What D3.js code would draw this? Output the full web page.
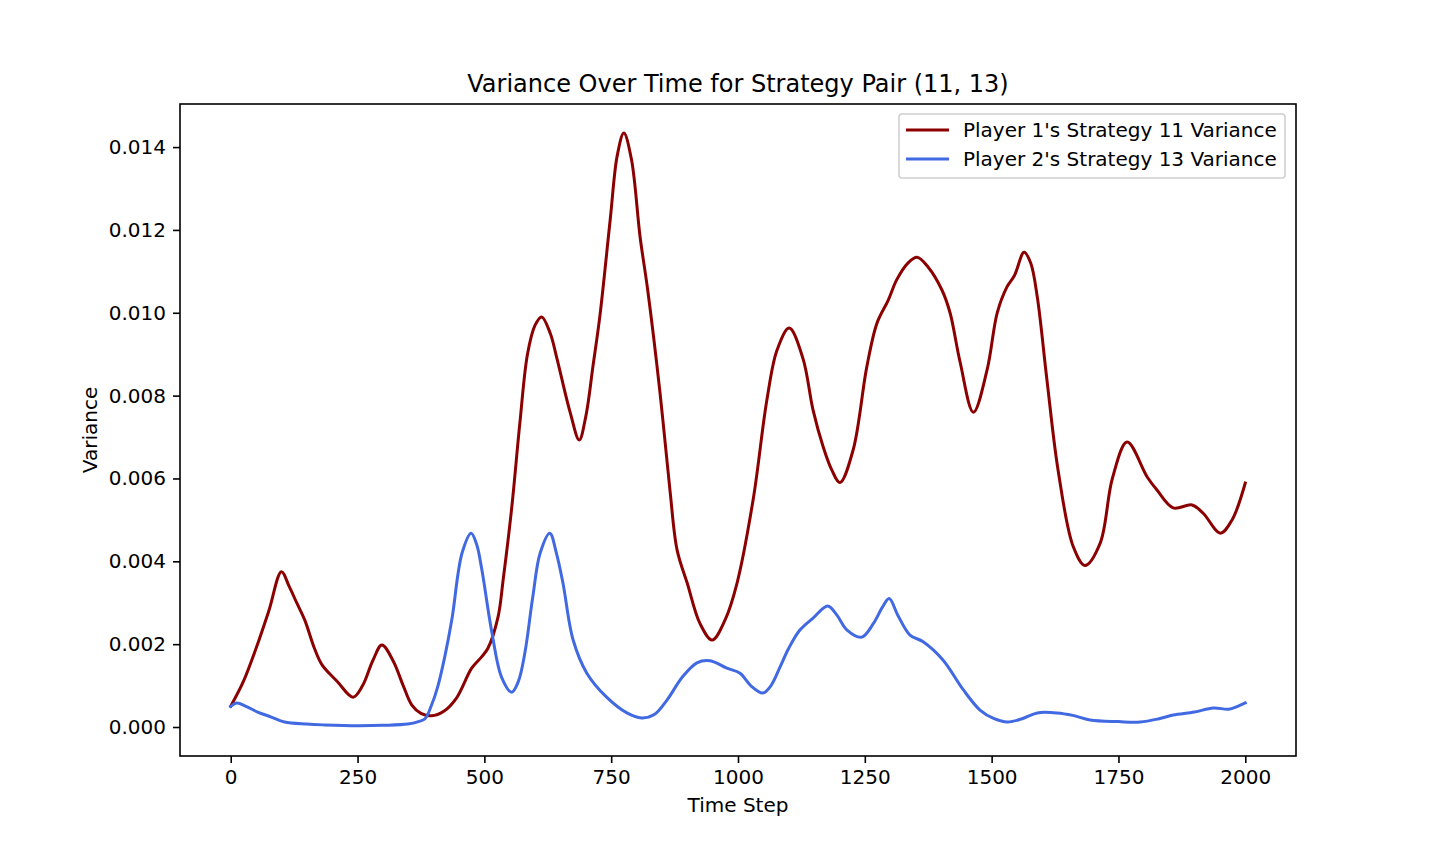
<!DOCTYPE html>
<html>
<head>
<meta charset="utf-8">
<script src="https://cdnjs.cloudflare.com/ajax/libs/d3/7.8.5/d3.min.js"></script>
<style>
    body {
        margin: 0px;
        padding: 0px;
        background: #fff;
    }
    svg text {
        font-family: 'DejaVu Sans', sans-serif;
    }
</style>
<title>Variance Over Time</title>
</head>
<body>
<div id="chart"></div>
<script>
    // values
    var p1Steps = [0, 25, 50, 75, 100, 115, 130, 146, 165, 180, 210, 241, 260, 280, 298, 320, 340, 357, 375, 396,
        420, 445, 475, 495, 507, 527, 537, 554, 570, 585, 600, 613, 630, 643, 669, 687, 700, 714, 728, 748,
        762, 775, 790, 807, 822, 846, 866, 880, 900, 925, 949, 975, 998, 1030, 1057, 1077, 1101, 1128, 1148, 1168,
        1185, 1201, 1227, 1254, 1274, 1296, 1313, 1335, 1353, 1375, 1402, 1418, 1438, 1464, 1491, 1511, 1530, 1545, 1564, 1577,
        1590, 1609, 1631, 1661, 1684, 1714, 1738, 1767, 1807, 1826, 1858, 1895, 1917, 1951, 1974, 2000];
    var p1Var = [0.0005, 0.0011, 0.0019, 0.0028, 0.00375, 0.0034, 0.0030, 0.00258, 0.0019, 0.0015, 0.0011, 0.00072, 0.0010, 0.0016, 0.00198, 0.0016, 0.0010, 0.00053, 0.00033, 0.00027,
        0.00038, 0.0007, 0.00142, 0.0017, 0.0019, 0.00266, 0.00355, 0.0053, 0.00734, 0.0090, 0.0097, 0.0099, 0.0095, 0.0089, 0.0076, 0.00693, 0.0075, 0.0087, 0.00995, 0.01224,
        0.0138, 0.01434, 0.0137, 0.01183, 0.01055, 0.0081, 0.0057, 0.00427, 0.00347, 0.0025, 0.0021, 0.0026, 0.00347, 0.0055, 0.0079, 0.0091, 0.00963, 0.0089, 0.00765, 0.00676,
        0.0062, 0.0059, 0.00669, 0.0087, 0.00975, 0.0103, 0.0108, 0.0112, 0.01134, 0.0111, 0.01055, 0.0100, 0.0088, 0.0076, 0.00862, 0.0100, 0.01062, 0.0109, 0.01146, 0.0112,
        0.01038, 0.00838, 0.0062, 0.00435, 0.0039, 0.00444, 0.0060, 0.00688, 0.00603, 0.00572, 0.00529, 0.00536, 0.00516, 0.00468, 0.0050, 0.00589];

    var p2Steps = [0, 12, 30, 53, 80, 106, 150, 185, 250, 300, 349, 370, 383, 395, 408, 422, 436, 456, 474, 485,
        495, 515, 534, 554, 567, 580, 595, 610, 629, 642, 655, 675, 702, 741, 781, 810, 835, 860, 890, 919,
        945, 978, 1004, 1025, 1049, 1065, 1083, 1100, 1122, 1148, 1177, 1195, 1215, 1244, 1267, 1285, 1298, 1315, 1339, 1365,
        1404, 1444, 1477, 1505, 1531, 1560, 1590, 1629, 1660, 1694, 1750, 1793, 1830, 1858, 1900, 1937, 1967, 1985, 2000];
    var p2Var = [0.0005, 0.00058, 0.0005, 0.00036, 0.00024, 0.00012, 0.00007, 0.00005, 0.00003, 0.00004, 0.00007, 0.00013, 0.0002, 0.0005, 0.00097, 0.0017, 0.0026, 0.0042, 0.00468, 0.0044,
        0.0038, 0.00227, 0.0012, 0.00084, 0.0011, 0.0018, 0.0031, 0.0042, 0.00468, 0.0042, 0.00347, 0.0021, 0.0013, 0.00072, 0.00034, 0.00022, 0.0003, 0.00065, 0.0012, 0.00155,
        0.0016, 0.00142, 0.0013, 0.0010, 0.00082, 0.0010, 0.00145, 0.0019, 0.00234, 0.00263, 0.00292, 0.0027, 0.00234, 0.00217, 0.0025, 0.0029, 0.0031, 0.0027, 0.00222, 0.00206,
        0.00162, 0.0009, 0.00041, 0.0002, 0.00012, 0.0002, 0.00034, 0.00034, 0.00028, 0.00017, 0.00013, 0.00012, 0.0002, 0.00029, 0.00036, 0.00046, 0.00043, 0.0005, 0.00058];

    var xTicks = [0, 250, 500, 750, 1000, 1250, 1500, 1750, 2000];
    var yTicks = [0, 0.002, 0.004, 0.006, 0.008, 0.010, 0.012, 0.014];
    var seriesNames = ["Player 1's Strategy 11 Variance", "Player 2's Strategy 13 Variance"];
    var seriesColors = ["#8b0000", "#4169e1"];

    var W = 1440, H = 864;
    var plotL = 180, plotR = 1296, plotT = 104, plotB = 756;

    var svg = d3.select("#chart").append("svg")
        .attr("width", W)
        .attr("height", H);

    var x = d3.scaleLinear().domain([-100, 2100]).range([plotL, plotR]);
    var y = d3.scaleLinear().domain([-0.0007, 0.01504]).range([plotB, plotT]);

    //the two lines, smoothed through the read points
    var line = d3.line()
        .x(function (d) { return x(d[0]); })
        .y(function (d) { return y(d[1]); })
        .curve(d3.curveCatmullRom.alpha(0.5));

    var series = [d3.zip(p1Steps, p1Var), d3.zip(p2Steps, p2Var)];

    svg.append("defs").append("clipPath").attr("id", "clip")
        .append("rect")
        .attr("x", plotL).attr("y", plotT)
        .attr("width", plotR - plotL).attr("height", plotB - plotT);

    series.forEach(function (s, i) {
        svg.append("path")
            .datum(s)
            .attr("clip-path", "url(#clip)")
            .attr("fill", "none")
            .attr("stroke", seriesColors[i])
            .attr("stroke-width", 3)
            .attr("stroke-linejoin", "round")
            .attr("stroke-linecap", "square")
            .attr("d", line);
    });

    //axes
    var xAxis = svg.append("g")
        .attr("transform", "translate(0," + plotB + ")")
        .call(d3.axisBottom(x).tickValues(xTicks).tickFormat(d3.format("d")).tickSize(7).tickPadding(7));
    var yAxis = svg.append("g")
        .attr("transform", "translate(" + plotL + ",0)")
        .call(d3.axisLeft(y).tickValues(yTicks).tickFormat(d3.format(".3f")).tickSize(7).tickPadding(7));

    [xAxis, yAxis].forEach(function (a) {
        a.select(".domain").remove();
        a.selectAll(".tick line").attr("stroke", "#000").attr("stroke-width", 1.6);
        a.selectAll(".tick text")
            .attr("fill", "#000")
            .style("font-size", "20px")
            .style("font-family", "'DejaVu Sans', sans-serif");
    });

    //frame
    svg.append("rect")
        .attr("x", plotL).attr("y", plotT)
        .attr("width", plotR - plotL).attr("height", plotB - plotT)
        .attr("fill", "none")
        .attr("stroke", "#000")
        .attr("stroke-width", 1.6);

    //titles
    svg.append("text")
        .attr("x", (plotL + plotR) / 2)
        .attr("y", 92)
        .attr("text-anchor", "middle")
        .style("font-size", "24px")
        .text("Variance Over Time for Strategy Pair (11, 13)");

    svg.append("text")
        .attr("x", (plotL + plotR) / 2)
        .attr("y", 812)
        .attr("text-anchor", "middle")
        .style("font-size", "20px")
        .text("Time Step");

    svg.append("text")
        .attr("transform", "translate(97," + ((plotT + plotB) / 2) + ") rotate(-90)")
        .attr("text-anchor", "middle")
        .style("font-size", "20px")
        .text("Variance");

    //legend
    var legend = svg.append("g");
    legend.append("rect")
        .attr("x", 899).attr("y", 114)
        .attr("width", 386).attr("height", 64)
        .attr("rx", 3)
        .attr("fill", "#fff")
        .attr("fill-opacity", 0.8)
        .attr("stroke", "#d0d0d0")
        .attr("stroke-width", 1.6);

    seriesNames.forEach(function (name, i) {
        var ly = 130 + i * 29;
        legend.append("line")
            .attr("x1", 906).attr("x2", 949)
            .attr("y1", ly).attr("y2", ly)
            .attr("stroke", seriesColors[i])
            .attr("stroke-width", 3);
        legend.append("text")
            .attr("x", 963)
            .attr("y", ly + 7)
            .style("font-size", "20px")
            .text(name);
    });
</script>
</body>
</html>
